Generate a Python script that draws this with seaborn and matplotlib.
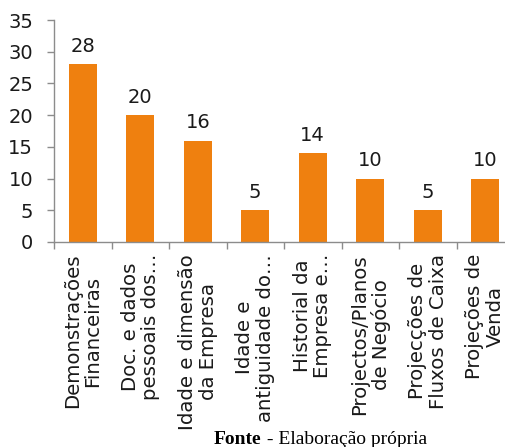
import matplotlib
matplotlib.use("Agg")
import matplotlib.pyplot as plt
import seaborn as sns
import pandas as pd
import numpy as np

categories = [
    "Demonstrações\nFinanceiras",
    "Doc. e dados\npessoais dos…",
    "Idade e dimensão\nda Empresa",
    "Idade e\nantiguidade do…",
    "Historial da\nEmpresa e…",
    "Projectos/Planos\nde Negócio",
    "Projecções de\nFluxos de Caixa",
    "Projeções de\nVenda",
]
values = [28, 20, 16, 5, 14, 10, 5, 10]
y_ticks = [0, 5, 10, 15, 20, 25, 30, 35]

BAR_COLOR = "#EF800F"
AXIS_COLOR = "#8C8C8C"
TEXT_COLOR = "#1A1A1A"

sns.set_theme(style="white")
plt.rcParams["font.family"] = ["DejaVu Sans"]

W, H = 505, 447
fig = plt.figure(figsize=(W / 100, H / 100), dpi=100)
ax = fig.add_axes([54 / W, 1 - 242 / H, 460 / W, 222 / H])

df = pd.DataFrame({"cat": categories, "val": values})
sns.barplot(data=df, x="cat", y="val", color=BAR_COLOR, saturation=1,
            width=0.49, ax=ax, edgecolor="none")

ax.set_xlim(-0.5, len(categories) - 0.5)
ax.set_ylim(0, 35)
ax.set_yticks(y_ticks)
ax.set_yticklabels([str(t) for t in y_ticks], fontsize=14, color=TEXT_COLOR)
ax.set_xlabel("")
ax.set_ylabel("")

for side in ["top", "right"]:
    ax.spines[side].set_visible(False)
for side in ["left", "bottom"]:
    ax.spines[side].set_color(AXIS_COLOR)
    ax.spines[side].set_linewidth(1.0)

ax.tick_params(axis="y", which="major", length=5, width=1, color=AXIS_COLOR,
               pad=10, left=True)

# category labels at centres, tick marks at category boundaries
ax.set_xticks(range(len(categories)))
ax.set_xticklabels(categories, rotation=90, fontsize=14.2, color=TEXT_COLOR,
                   ha="center", va="top", multialignment="center",
                   linespacing=1.1)
ax.tick_params(axis="x", which="major", length=0, pad=8.5)
ax.set_xticks(np.arange(-0.5, len(categories), 1.0), minor=True)
ax.tick_params(axis="x", which="minor", length=5, width=1, color=AXIS_COLOR,
               bottom=True)

for cont in ax.containers:
    ax.bar_label(cont, labels=[str(v) for v in values], padding=6,
                 fontsize=14, color=TEXT_COLOR)

# source note
t1 = fig.text(214 / W, 1 - 444 / H, "Fonte", fontsize=14, fontweight="bold",
              family="Liberation Serif", color="black", ha="left", va="baseline")
ax.annotate(" - Elaboração própria", xy=(1, 0), xycoords=t1, fontsize=14,
            family="Liberation Serif", color="black", ha="left", va="bottom",
            annotation_clip=False)

fig.savefig("out.png", dpi=100)
